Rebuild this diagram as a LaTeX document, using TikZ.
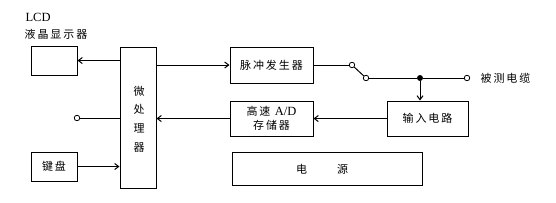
\documentclass[tikz,border=0pt]{standalone}
\usepackage{fontspec}
\setmainfont{Liberation Serif}
\newfontfamily\cjk{Noto Sans CJK SC}[LetterSpace=18]
\usetikzlibrary{arrows.meta, positioning, calc}
\definecolor{lnblack}{HTML}{000000}

\begin{document}
\begin{tikzpicture}[
    x=1pt, y=-1pt,
    >={Straight Barb[length=4pt, width=6pt]},
    every node/.style={text=lnblack},
    block/.style={draw=lnblack, line width=1pt, inner sep=0pt,
      font=\fontsize{11}{13}\cjk, align=center},
    wire/.style={draw=lnblack, line width=1pt},
    port/.style={circle, draw=lnblack, line width=0.8pt, fill=white,
      minimum size=5.5pt, inner sep=0pt},
    junct/.style={circle, fill=lnblack, minimum size=6pt, inner sep=0pt},
  ]

  % Canvas
  \useasboundingbox (0,0) rectangle (556,202);

  % === Blocks ===
  \node[block, minimum width=46pt, minimum height=29pt] (lcd) at (54,60.5) {};
  \node[anchor=west, font=\fontsize{12.5}{14}\selectfont] (lcdname) at (22,17) {LCD};
  \node[anchor=west, font=\fontsize{11}{13}\cjk] (lcdcn) at (21,34) {液晶显示器};

  \node[block, minimum width=36pt, minimum height=141pt] (cpu) at (138,117.5) {};
  \node[font=\fontsize{11}{18.7}\cjk, align=center] (cputext) at (139,119)
    {微\\处\\理\\器};

  \node[block, minimum width=83pt, minimum height=36pt] (pulse) at (271.5,65)
    {脉冲发生器};

  \node[block, minimum width=83pt, minimum height=35pt] (ad) at (271.5,118.5)
    {高速 {\fontsize{12.5}{14}\rmfamily A/D}\\[1pt]存储器};

  \node[block, minimum width=81pt, minimum height=35pt] (input) at (427.5,118.5)
    {输入电路};

  \node[block, minimum width=46pt, minimum height=29pt] (kbd) at (54,166.5)
    {键盘};

  \node[block, minimum width=190pt, minimum height=33pt] (power) at (327,168.5) {};
  \node[font=\fontsize{11}{13}\cjk] (powertext) at (322,169)
    {电\hspace{30pt}源};

  % === Switch and cable ===
  \node[port] (sw1) at (352,65) {};
  \node[port] (sw2) at (366,78) {};
  \node[junct] (tap) at (420,78) {};
  \node[port] (cable) at (467,78) {};
  \node[anchor=west, font=\fontsize{11}{13}\cjk] (cablename) at (477,78)
    {被测电缆};

  \node[port] (ext) at (77,118) {};

  % === Connections ===
  \draw[wire, ->] (cpu.west |- lcd) -- (lcd.east);
  \draw[wire, ->] (cpu.east |- pulse) -- (pulse.west);
  \draw[wire] (pulse.east) -- (sw1);
  \draw[wire] (sw1) -- (sw2);
  \draw[wire] (sw2) -- (tap) -- (cable);
  \draw[wire, ->] (tap) -- (tap |- input.north);
  \draw[wire, ->] (input.west) -- (ad.east);
  \draw[wire, ->] (ad.west) -- (ad.west -| cpu.east);
  \draw[wire] (ext) -- (ext -| cpu.west);
  \draw[wire, ->] (kbd.east) -- (kbd.east -| cpu.west);

\end{tikzpicture}
\end{document}
